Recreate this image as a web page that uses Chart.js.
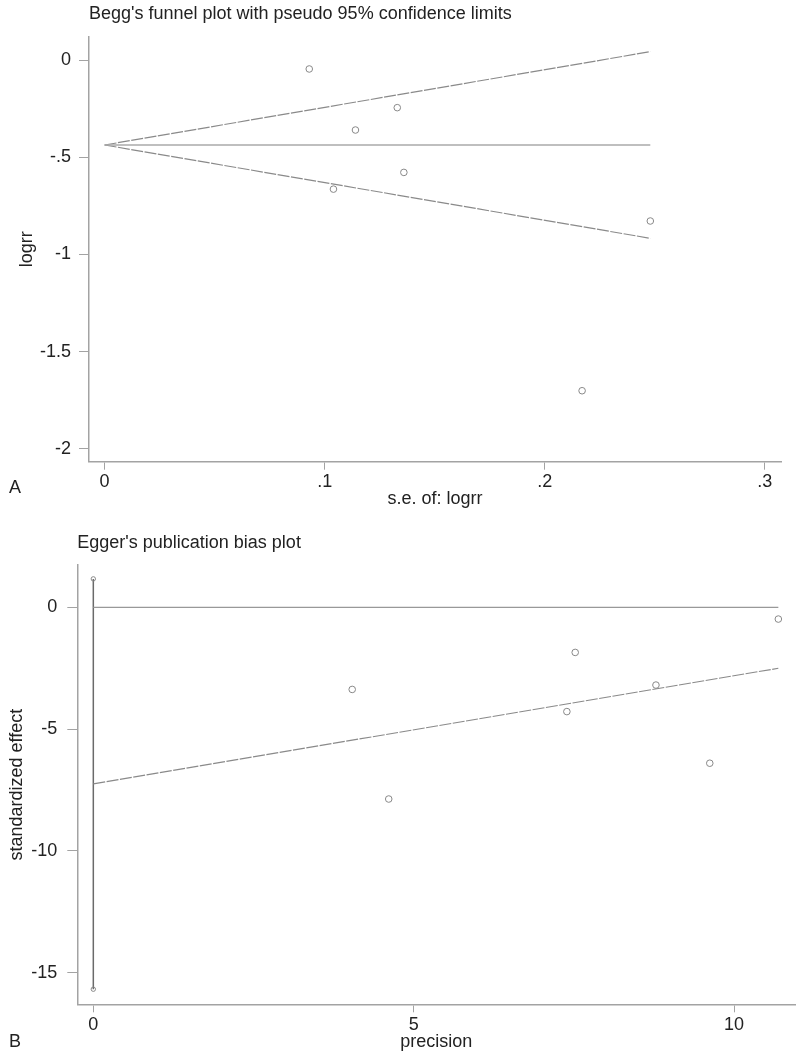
<!DOCTYPE html>
<html>
<head>
<meta charset="utf-8">
<script src="https://cdn.jsdelivr.net/npm/chart.js@4"></script>
<style>
  body { margin: 0; background: #fff; }
  #wrap { position: relative; width: 800px; height: 1053px; }
  canvas { position: absolute; left: 0; }
  .panel { position: absolute; left: 9px; font: 18px "Liberation Sans", Arial, sans-serif; color: #222; line-height: 20px; }
</style>
</head>
<body>
<div id="wrap">
  <canvas id="funnel" width="800" height="510" style="top:0"></canvas>
  <canvas id="egger" width="800" height="543" style="top:510px"></canvas>
  <div class="panel" style="top:477px">A</div>
  <div class="panel" style="top:1031px">B</div>
</div>
<script>
// Begg's funnel: s.e. and log risk ratio of each study
const seLogrr = [0.093, 0.104, 0.114, 0.133, 0.136, 0.217, 0.248];
const logrr = [-0.046, -0.664, -0.360, -0.245, -0.578, -1.701, -0.828];
const pooledLogrr = -0.437;
const funnelSeMax = 0.248;
const funnelUpper = 0.043;
const funnelLower = -0.917;
const funnelTicksX = [0, 0.1, 0.2, 0.3];
const funnelTicksY = [0, -0.5, -1, -1.5, -2];

// Egger: precision vs standardized effect
const precision = [4.04, 4.61, 7.39, 7.52, 8.78, 9.62, 10.69];
const stdEffect = [-3.37, -7.87, -4.28, -1.85, -3.19, -6.40, -0.48];
const eggerXEnd = 10.69;
const eggerIntercept = -7.25;
const eggerLineEnd = -2.50;
const interceptCI = [-15.68, 1.17];
const eggerTicksX = [0, 5, 10];
const eggerTicksY = [0, -5, -10, -15];

const font = { family: '"Liberation Sans", Arial, sans-serif', size: 18, weight: 'normal' };
const ink = '#222', axisGray = '#a3a3a3', markGray = '#888';

// stata style labels: .1 / -.5
const fmt = (v) => String(v).replace(/^(-?)0\./, '$1.');
const pts = (xs, ys) => xs.map((x, i) => ({ x: x, y: ys[i] }));

const axis = (o) => ({
  type: 'linear',
  min: o.min,
  max: o.max,
  afterBuildTicks: (s) => { s.ticks = o.ticks.map((v) => ({ value: v })); },
  afterFit: (s) => {
    if (o.width) s.width = o.width;
    if (o.height) s.height = o.height;
  },
  border: { color: axisGray, width: 1.5 },
  grid: { drawOnChartArea: false, color: axisGray, tickLength: o.tick, lineWidth: 1 },
  ticks: { color: ink, font: font, padding: o.pad, autoSkip: false, maxRotation: 0, callback: (v) => fmt(v) },
  title: { display: true, text: o.title, color: ink, font: font, padding: o.titlePad }
});

const lineSet = (data, color, width, dash) => ({
  data: data,
  showLine: true,
  borderColor: color,
  borderWidth: width,
  borderDash: dash || [],
  pointRadius: 0
});

const markerSet = (data, r) => ({
  data: data,
  pointStyle: 'circle',
  pointRadius: r,
  pointBorderWidth: 1,
  pointBorderColor: markGray,
  pointBackgroundColor: 'rgba(255,255,255,0)'
});

const baseOptions = (title, titlePad, padRight) => ({
  responsive: false,
  animation: false,
  layout: { padding: { top: 0, left: 0, right: padRight, bottom: 0 } },
  plugins: {
    legend: { display: false },
    tooltip: { enabled: false },
    title: { display: true, text: title, align: 'start', fullSize: false, color: ink, font: font, padding: titlePad }
  }
});

const fineDash = [12, 1.5];

const funnelOpts = baseOptions("Begg's funnel plot with pseudo 95% confidence limits", { top: 3, bottom: 12.1 }, 19);
funnelOpts.scales = {
  x: axis({ min: -0.0071, max: 0.3074, ticks: funnelTicksX, height: 48.3, tick: 8, pad: 2,
    title: 's.e. of: logrr', titlePad: { top: 0, bottom: 0 } }),
  y: axis({ min: -2.066, max: 0.12, ticks: funnelTicksY, width: 89, tick: 10, pad: 8,
    title: 'logrr', titlePad: { top: 16, bottom: 0 } })
};

new Chart(document.getElementById('funnel'), {
  type: 'scatter',
  data: {
    datasets: [
      lineSet([{ x: 0, y: pooledLogrr }, { x: funnelSeMax, y: pooledLogrr }], '#aaa', 1.3),
      lineSet([{ x: 0, y: pooledLogrr }, { x: funnelSeMax, y: funnelUpper }], '#8a8a8a', 1.2, fineDash),
      lineSet([{ x: 0, y: pooledLogrr }, { x: funnelSeMax, y: funnelLower }], '#8a8a8a', 1.2, fineDash),
      markerSet(pts(seLogrr, logrr), 3.3)
    ]
  },
  options: funnelOpts
});

const eggerOpts = baseOptions("Egger's publication bias plot", { top: 22, bottom: 11.4 }, 4);
eggerOpts.scales = {
  x: axis({ min: -0.25, max: 10.95, ticks: eggerTicksX, height: 48.7, tick: 8, pad: 2,
    title: 'precision', titlePad: { top: 0, bottom: 0 } }),
  y: axis({ min: -16.3, max: 1.74, ticks: eggerTicksY, width: 77.3, tick: 10, pad: 10,
    title: 'standardized effect', titlePad: { top: 6.2, bottom: 0 } })
};

new Chart(document.getElementById('egger'), {
  type: 'scatter',
  data: {
    datasets: [
      lineSet([{ x: 0, y: 0 }, { x: eggerXEnd, y: 0 }], '#999', 1.3),
      lineSet([{ x: 0, y: eggerIntercept }, { x: eggerXEnd, y: eggerLineEnd }], '#8a8a8a', 1.2, fineDash),
      Object.assign(markerSet([{ x: 0, y: interceptCI[0] }, { x: 0, y: interceptCI[1] }], 2.2),
        { showLine: true, borderColor: '#6a6a6a', borderWidth: 1.5 }),
      markerSet(pts(precision, stdEffect), 3.3)
    ]
  },
  options: eggerOpts
});
</script>
</body>
</html>
